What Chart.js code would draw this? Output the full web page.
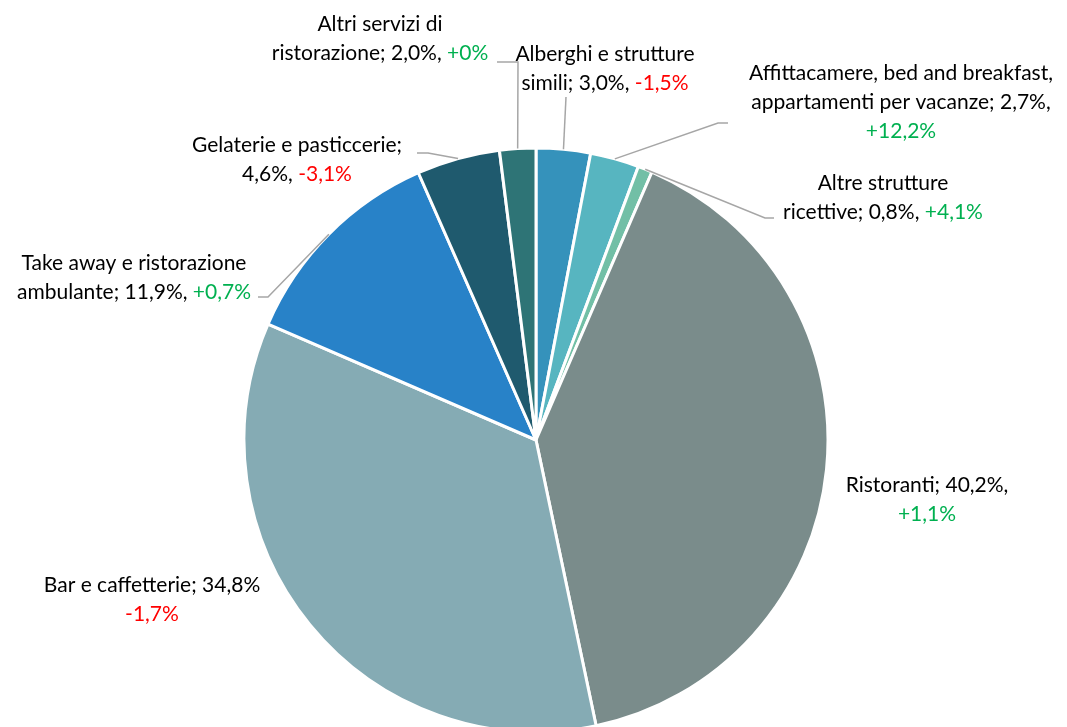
<!DOCTYPE html>
<html>
<head>
<meta charset="utf-8">
<script src="https://cdn.jsdelivr.net/npm/chart.js@4.4.1/dist/chart.umd.min.js"></script>
<style>
html,body{margin:0;padding:0;background:#fff}
#wrap{width:1067px;height:727px;position:relative}
</style>
</head>
<body>
<div id="wrap"><canvas id="pie"></canvas></div>
<script>
// slices, clockwise from 12 o'clock
var categories=["Alberghi e strutture simili","Affittacamere, bed and breakfast, appartamenti per vacanze","Altre strutture ricettive","Ristoranti","Bar e caffetterie","Take away e ristorazione ambulante","Gelaterie e pasticcerie","Altri servizi di ristorazione"];
var shares=[3.0,2.7,0.8,40.2,34.8,11.9,4.6,2.0];
var changes=["-1,5%","+12,2%","+4,1%","+1,1%","-1,7%","+0,7%","-3,1%","+0%"];
var colors=["#3592bb","#57b5c0","#72bfa6","#7a8c8b","#85abb4","#2882c8","#1f5a6e","#2e7476"];

function pct(v){return v.toFixed(1).replace(".",",")+"%"}
function chgColor(s){return s.charAt(0)==="-"?"#ff0000":"#00b050"}

// label layout: text lines (segments), centre x, first line y, leader path (elbow, end)
var labelLayout=[
  {x:605,y:54,lines:function(i){return [[["Alberghi e strutture","#000"]],[["simili; "+pct(shares[i])+", ","#000"],[changes[i],chgColor(changes[i])]]]},path:[[566,97]]},
  {x:901,y:73,lines:function(i){return [[["Affittacamere, bed and breakfast,","#000"]],[["appartamenti per vacanze; "+pct(shares[i])+",","#000"]],[[changes[i],chgColor(changes[i])]]]},path:[[718,123],[728,123]]},
  {x:883,y:183,lines:function(i){return [[["Altre strutture","#000"]],[["ricettive; "+pct(shares[i])+", ","#000"],[changes[i],chgColor(changes[i])]]]},path:[[765,218],[774,218]]},
  {x:927,y:485,lines:function(i){return [[["Ristoranti; "+pct(shares[i])+",","#000"]],[[changes[i],chgColor(changes[i])]]]},path:null},
  {x:152,y:585,lines:function(i){return [[["Bar e caffetterie; "+pct(shares[i]),"#000"]],[[changes[i],chgColor(changes[i])]]]},path:null},
  {x:134,y:263,lines:function(i){return [[["Take away e ristorazione","#000"]],[["ambulante; "+pct(shares[i])+", ","#000"],[changes[i],chgColor(changes[i])]]]},path:[[268,297],[258,297]]},
  {x:297,y:145,lines:function(i){return [[["Gelaterie e pasticcerie;","#000"]],[[pct(shares[i])+", ","#000"],[changes[i],chgColor(changes[i])]]]},path:[[428,153],[417,153]]},
  {x:380,y:24,lines:function(i){return [[["Altri servizi di","#000"]],[["ristorazione; "+pct(shares[i])+", ","#000"],[changes[i],chgColor(changes[i])]]]},path:[[518,62],[497,62]]}
];

var labelPlugin={
  id:"labels",
  afterDraw:function(chart){
    var ctx=chart.ctx,meta=chart.getDatasetMeta(0);
    ctx.save();
    ctx.font="21px Lato";
    ctx.textBaseline="middle";
    ctx.textAlign="left";
    for(var i=0;i<meta.data.length;i++){
      var el=meta.data[i],L=labelLayout[i];
      if(L.path){
        var mid=(el.startAngle+el.endAngle)/2;
        ctx.beginPath();
        ctx.moveTo(el.x+Math.cos(mid)*el.outerRadius,el.y+Math.sin(mid)*el.outerRadius);
        for(var p=0;p<L.path.length;p++) ctx.lineTo(L.path[p][0],L.path[p][1]);
        ctx.strokeStyle="#a6a6a6";ctx.lineWidth=1.5;ctx.stroke();
      }
      var lines=L.lines(i);
      for(var j=0;j<lines.length;j++){
        var segs=lines[j],w=0;
        for(var k=0;k<segs.length;k++) w+=ctx.measureText(segs[k][0]).width;
        var x=L.x-w/2,y=L.y+j*29;
        for(var k=0;k<segs.length;k++){
          ctx.fillStyle=segs[k][1];
          ctx.fillText(segs[k][0],x,y);
          x+=ctx.measureText(segs[k][0]).width;
        }
      }
    }
    ctx.restore();
  }
};

new Chart(document.getElementById("pie"),{
  type:"pie",
  data:{labels:categories,datasets:[{data:shares,backgroundColor:colors,borderColor:"#fff",borderWidth:3}]},
  options:{
    responsive:true,maintainAspectRatio:false,animation:false,
    radius:292,
    layout:{padding:{left:5,right:0,top:153,bottom:0}},
    plugins:{legend:{display:false},tooltip:{enabled:false}}
  },
  plugins:[labelPlugin]
});
</script>
</body>
</html>
